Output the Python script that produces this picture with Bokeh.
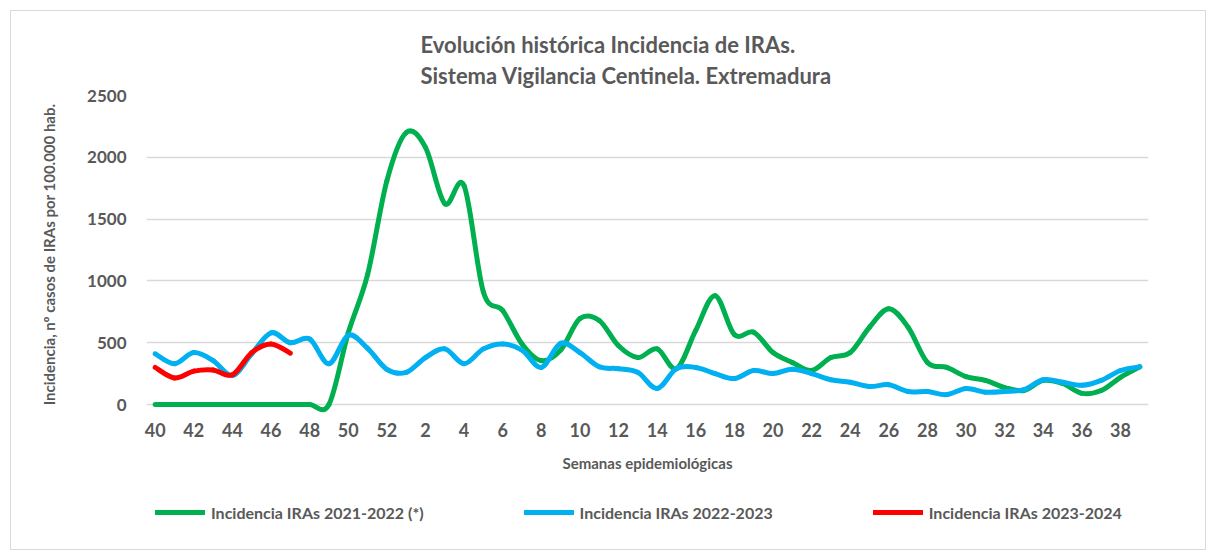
from bokeh.plotting import figure
from bokeh.layouts import column
from bokeh.models import FixedTicker, Range1d, Legend, LegendItem, Title
from bokeh.embed import file_html
from bokeh.resources import INLINE

# ---- data -------------------------------------------------------------
weeks = list(range(40, 53)) + list(range(1, 40))

inc_2021_2022 = [0, 0, 0, 0, 0, 0, 0, 0, 0, 0,          # 40-49
                 580, 1050, 1810,                         # 50-52
                 2200, 2080, 1625, 1770, 910, 760, 490, 355, 440, 695,   # 1-10
                 680, 475, 380, 450, 290, 600, 880, 565, 585, 420,       # 11-20
                 340, 275, 380, 420, 625, 775, 625, 340, 300, 225,       # 21-30
                 195, 137, 113, 195, 170, 90, 113, 220, 305]             # 31-39

inc_2022_2023 = [410, 330, 420, 355, 235, 410, 580, 500, 530, 330,       # 40-49
                 560, 455, 285,                                          # 50-52
                 260, 380, 450, 330, 450, 490, 440, 300, 495, 420,       # 1-10
                 305, 290, 260, 130, 290, 300, 250, 210, 275, 250,       # 11-20
                 285, 250, 200, 180, 145, 160, 105, 105, 80, 130,        # 21-30
                 100, 105, 120, 200, 180, 155, 195, 275, 305]            # 31-39

inc_2023_2024 = [300, 215, 270, 280, 240, 420, 490, 415]                 # 40-47

series_names = ["Incidencia IRAs 2021-2022 (*)",
                "Incidencia IRAs 2022-2023",
                "Incidencia IRAs 2023-2024"]
series_colors = ["#00B050", "#00B0F0", "#FF0000"]

title_lines = ["Evolución histórica Incidencia de IRAs.",
               "Sistema Vigilancia Centinela. Extremadura"]

y_ticks = [0, 500, 1000, 1500, 2000, 2500]
x_tick_idx = list(range(0, len(weeks), 2))

FONT = "Lato"
TXT = "#595959"

# ---- main figure ------------------------------------------------------
p = figure(frame_width=1002, frame_height=318,
           min_border_left=135, min_border_right=57,
           min_border_top=84, min_border_bottom=67,
           x_range=Range1d(-0.45, 51.45), y_range=Range1d(-72.8, 2500),
           output_backend="svg", toolbar_location=None, title=None)
p.outline_line_color = None
p.background_fill_color = "white"
p.border_fill_color = "white"

p.xgrid.grid_line_color = None
p.ygrid.grid_line_color = "#d9d9d9"
p.ygrid.grid_line_width = 1.5
p.yaxis.ticker = FixedTicker(ticks=y_ticks)
p.xaxis.ticker = FixedTicker(ticks=x_tick_idx)
p.xaxis.major_label_overrides = {i: str(weeks[i]) for i in x_tick_idx}

for ax in (p.xaxis, p.yaxis):
    ax.axis_line_color = None
    ax.major_tick_line_color = None
    ax.minor_tick_line_color = None
    ax.major_tick_out = 0
    ax.major_label_text_font = FONT
    ax.major_label_text_font_style = "bold"
    ax.major_label_text_color = TXT
    ax.axis_label_text_font = FONT
    ax.axis_label_text_font_style = "bold"
    ax.axis_label_text_color = TXT
    ax.axis_label_text_font_size = "15px"

p.yaxis.major_label_text_font_size = "17px"
p.xaxis.major_label_text_font_size = "18px"
p.yaxis.major_label_standoff = 20
p.xaxis.major_label_standoff = 9
p.yaxis.axis_label = "Incidencia, nº casos de IRAs por 100.000 hab."
p.xaxis.axis_label = "Semanas epidemiológicas"
p.yaxis.axis_label_standoff = 26
p.xaxis.axis_label_standoff = 14


def bezier_segments(ys):
    xs = list(range(len(ys)))
    n = len(ys)
    d = {k: [] for k in ("x0", "y0", "x1", "y1", "cx0", "cy0", "cx1", "cy1")}
    for i in range(n - 1):
        a = i - 1 if i > 0 else i
        b = i + 2 if i + 2 < n else i + 1
        d["x0"].append(xs[i]); d["y0"].append(ys[i])
        d["x1"].append(xs[i + 1]); d["y1"].append(ys[i + 1])
        d["cx0"].append(xs[i] + (xs[i + 1] - xs[a]) / 6)
        d["cy0"].append(ys[i] + (ys[i + 1] - ys[a]) / 6)
        d["cx1"].append(xs[i + 1] - (xs[b] - xs[i]) / 6)
        d["cy1"].append(ys[i + 1] - (ys[b] - ys[i]) / 6)
    return d


all_series = [inc_2021_2022, inc_2022_2023, inc_2023_2024]
for ys, col in zip(all_series, series_colors):
    seg = bezier_segments(ys)
    p.bezier(source=seg, x0="x0", y0="y0", x1="x1", y1="y1",
             cx0="cx0", cy0="cy0", cx1="cx1", cy1="cy1",
             line_color=col, line_width=5, line_cap="round")

p.add_layout(Title(text="\n".join(title_lines), align="left", offset=274,
                   standoff=12, text_line_height=1.17,
                   text_font=FONT, text_font_style="bold",
                   text_font_size="22px", text_color=TXT), "above")

# ---- legend strip (its frame is aligned with the main frame) -----------
lf = figure(width=1194, height=69, min_border=0,
            x_range=Range1d(-0.45, 51.45), y_range=Range1d(-3000, -2900),
            x_axis_location=None, y_axis_location=None,
            output_backend="svg", toolbar_location=None, title=None)
lf.outline_line_color = None
lf.grid.grid_line_color = None
lf.border_fill_color = "white"

items = []
for ys, name, col in zip(all_series, series_names, series_colors):
    # same series, lying outside this strip's visible range: only the key shows
    proxy = lf.line(x=list(range(len(ys))), y=ys, line_color=col,
                    line_width=5, line_cap="round")
    items.append(LegendItem(label=name, renderers=[proxy]))

legend = Legend(items=items, orientation="horizontal", location=(9, 27),
                glyph_width=50, glyph_height=20, label_standoff=6, spacing=100,
                padding=0, margin=0, border_line_color=None,
                background_fill_alpha=0,
                label_text_font=FONT, label_text_font_style="bold",
                label_text_color=TXT, label_text_font_size="16px")
lf.add_layout(legend, "center")

layout = column(p, lf, spacing=0)
layout.margin = (10, 0, 0, 10)
layout.styles = {"border": "1px solid #d9d9d9", "background": "white"}

open("out.html", "w").write(file_html(layout, INLINE))
